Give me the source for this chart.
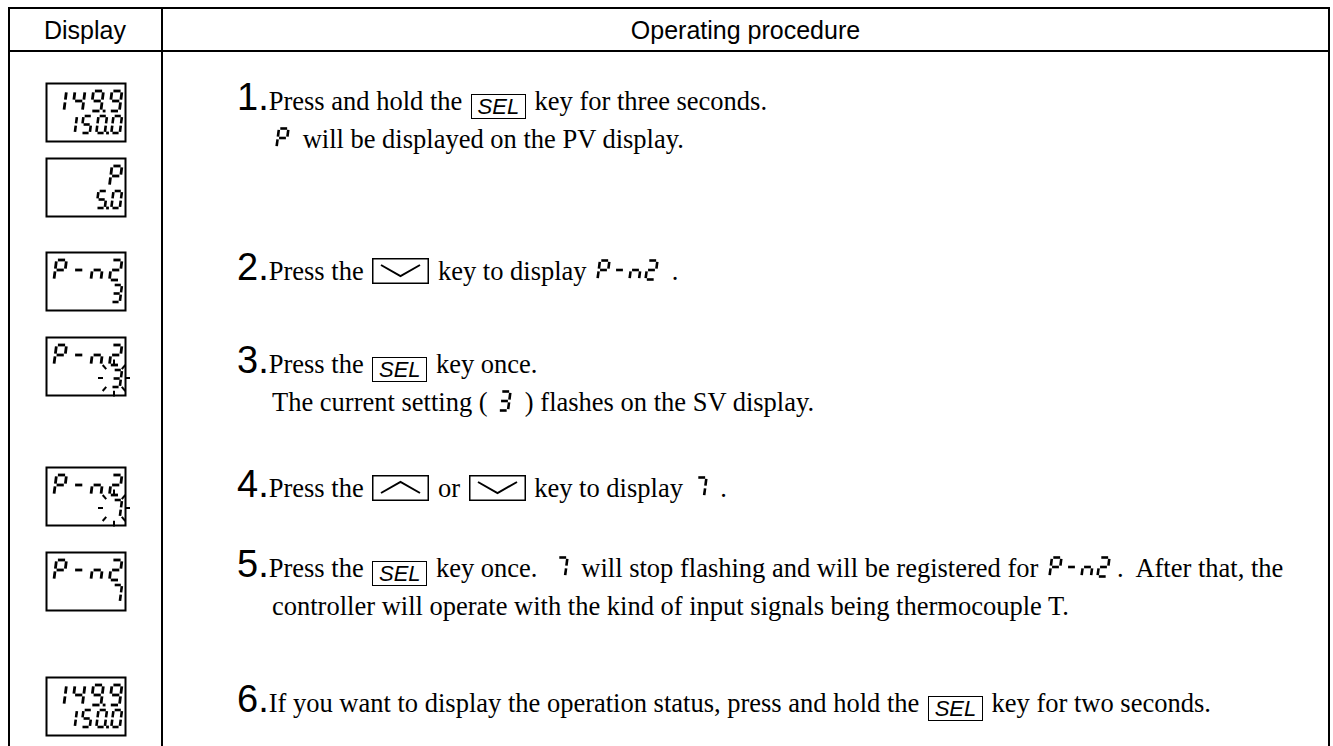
<!DOCTYPE html>
<html>
<head>
<meta charset="utf-8">
<script src="https://cdn.jsdelivr.net/npm/chart.js@4.4.0/dist/chart.umd.min.js"></script>
<style>
    body { margin: 0; width: 1333px; height: 746px; overflow: hidden; position: relative; background: #fff;
           font-family: "Liberation Serif", "Times New Roman", serif; color: #000; }
    .rule { position: absolute; background: #000; }
    .head { position: absolute; top: 15px; font-family: "Liberation Sans", Arial, sans-serif; font-size: 25px; line-height: 30px; text-align: center; }
    .line { position: absolute; white-space: nowrap; font-size: 26.5px; line-height: 40px; }
    .num { font-family: "Liberation Sans", Arial, sans-serif; font-size: 38px; line-height: 40px; }
    .mark { display: inline-block; width: 0; height: 0; }
    .key { display: inline-block; box-sizing: border-box; vertical-align: -4px; margin: 0 2px; }
    .sel { border: 1.5px solid #000; width: 55px; height: 25px; line-height: 23px; text-align: center;
           font-family: "Liberation Sans", Arial, sans-serif; font-style: italic; font-size: 22px; }
    .seg { vertical-align: -1px; margin: 0 3px; }
    #panel { position: absolute; left: 0; top: 0; }
</style>
</head>
<body>
<svg id="panel" width="162" height="746"></svg>
<div id="doc"></div>
<script>
// Display column: what the PV (upper) and SV (lower) readouts show for each step
const pvDisplay = ['149.9', 'P', 'P-n2', 'P-n2', 'P-n2', 'P-n2', '149.9'];
const svDisplay = ['150.0', '5.0', '3', '3', '7', '7', '150.0'];
const svFlashing = [false, false, false, true, true, false, false];

// Procedure text; [SEL] [UP] [DOWN] are keys, {..} is a 7-segment glyph
const stepNumbers = ['1', '', '2', '3', '', '4', '5', '', '6'];
const stepTexts = [
    'Press and hold the [SEL] key for three seconds.',
    '{P} will be displayed on the PV display.',
    'Press the [DOWN] key to display {P-n2} .',
    'Press the [SEL] key once.',
    'The current setting ( {3} ) flashes on the SV display.',
    'Press the [UP] or [DOWN] key to display {7} .',
    'Press the [SEL] key once.&nbsp; {7} will stop flashing and will be registered for {P-n2}.&nbsp; After that, the',
    'controller will operate with the kind of input signals being thermocouple T.',
    'If you want to display the operation status, press and hold the [SEL] key for two seconds.'
];

// Layout
const boxTops = [83, 158, 252, 337, 467, 552, 677];
const lineBaselines = [110, 148, 280, 373, 411, 497, 577, 615, 712];

const SEGS = {
    '0': 'abcdef', '1': 'bc', '2': 'abdeg', '3': 'abcdg', '4': 'bcfg', '5': 'acdfg',
    '6': 'acdefg', '7': 'abc', '8': 'abcdefg', '9': 'abcdfg', 'P': 'abefg', 'n': 'ceg', '-': 'g', ' ': ''
};

function parseCells(str) {
    const cells = [];
    for (const ch of str) {
        if (ch === '.' && cells.length) cells[cells.length - 1].dp = true;
        else cells.push({ ch: ch, dp: false });
    }
    return cells;
}

// one digit as svg lines, x0/y0 = top-left of the cell
function digitSvg(cell, x0, y0, h, sw) {
    const W = 0.5 * h, g = 0.07 * h, sk = 0.13;
    const P = (x, y) => [x0 + x + (h - y) * sk, y0 + y];
    const defs = {
        a: [g, 0, W - g, 0], b: [W, g, W, h / 2 - g], c: [W, h / 2 + g, W, h - g],
        d: [g, h, W - g, h], e: [0, h / 2 + g, 0, h - g], f: [0, g, 0, h / 2 - g], g: [g, h / 2, W - g, h / 2]
    };
    let out = '';
    for (const s of (SEGS[cell.ch] || '')) {
        const d = defs[s];
        const p1 = P(d[0], d[1]), p2 = P(d[2], d[3]);
        out += `<line x1="${p1[0]}" y1="${p1[1]}" x2="${p2[0]}" y2="${p2[1]}" stroke="#000" stroke-width="${sw}"/>`;
    }
    if (cell.dp) {
        const p = P(W + 0.16 * h, h);
        out += `<rect x="${p[0] - 1.4}" y="${p[1] - 1.4}" width="2.8" height="2.8" fill="#000"/>`;
    }
    return out;
}

function rowSvg(str, right, top, h, pitch, sw) {
    const cells = parseCells(str);
    let out = '';
    cells.forEach((c, i) => {
        const x = right - (cells.length - i) * pitch + (pitch - 0.5 * h - h * 0.13) - 1;
        out += digitSvg(c, x, top, h, sw);
    });
    return out;
}

function flashSvg(cx, cy) {
    let out = '';
    for (let k = 0; k < 8; k++) {
        const a = k * Math.PI / 4;
        const r1 = 11, r2 = 16;
        out += `<line x1="${cx + Math.cos(a) * r1}" y1="${cy - Math.sin(a) * r1 * 1.15}" x2="${cx + Math.cos(a) * r2}" y2="${cy - Math.sin(a) * r2 * 1.15}" stroke="#000" stroke-width="2"/>`;
    }
    return out;
}

// inline 7-segment glyph for the text
function inlineSeg(str) {
    const h = 19, pitch = 16;
    const cells = parseCells(str);
    const w = cells.length * pitch + 2;
    let inner = '';
    cells.forEach((c, i) => { inner += digitSvg(c, 1.5 + i * pitch, 1.5, h, 2.6); });
    return `<svg class="seg" width="${w}" height="${h + 3}">${inner}</svg>`;
}

function chevron(up) {
    const pts = up ? '9,18 28.5,7 48,18' : '9,7 28.5,18 48,7';
    return `<svg class="key" width="57" height="26"><rect x="0.75" y="0.75" width="55.5" height="24.5" fill="none" stroke="#000" stroke-width="1.5"/><polyline points="${pts}" fill="none" stroke="#000" stroke-width="2"/></svg>`;
}

function markup(text) {
    return text
        .replace(/\[SEL\]/g, '<span class="key sel">SEL</span>')
        .replace(/\[UP\]/g, chevron(true))
        .replace(/\[DOWN\]/g, chevron(false))
        .replace(/\{([^}]+)\}/g, (m, s) => inlineSeg(s));
}

// table rules
const doc = document.getElementById('doc');
function rule(x, y, w, h) {
    const d = document.createElement('div');
    d.className = 'rule';
    Object.assign(d.style, { left: x + 'px', top: y + 'px', width: w + 'px', height: h + 'px' });
    doc.appendChild(d);
}
rule(8, 7, 1322, 2);
rule(8, 50, 1322, 2);
rule(8, 7, 2, 746);
rule(161, 7, 2, 746);
rule(1328, 7, 2, 746);

const h1 = document.createElement('div');
h1.className = 'head'; h1.style.left = '9px'; h1.style.width = '152px'; h1.textContent = 'Display';
doc.appendChild(h1);
const h2 = document.createElement('div');
h2.className = 'head'; h2.style.left = '163px'; h2.style.width = '1165px'; h2.textContent = 'Operating procedure';
doc.appendChild(h2);

// procedure lines, each shifted so its baseline lands on lineBaselines[i]
stepTexts.forEach((t, i) => {
    const d = document.createElement('div');
    d.className = 'line';
    d.style.top = '0px';
    if (stepNumbers[i]) {
        d.style.left = '237px';
        d.innerHTML = `<span class="mark"></span><span class="num">${stepNumbers[i]}.</span>` + markup(t);
    } else {
        d.style.left = '272px';
        d.innerHTML = '<span class="mark"></span>' + markup(t);
    }
    doc.appendChild(d);
    const base = d.querySelector('.mark').getBoundingClientRect().top;
    d.style.top = (lineBaselines[i] - base) + 'px';
});

// display boxes
let svg = '';
pvDisplay.forEach((pv, i) => {
    const y = boxTops[i];
    svg += `<rect x="46.5" y="${y + 0.5}" width="79" height="58" fill="none" stroke="#000" stroke-width="2"/>`;
    svg += rowSvg(pv, 123, y + 8, 20, 18.5, 2.8);
    svg += rowSvg(svDisplay[i], 123, y + 33, 17, 15, 2.6);
    if (svFlashing[i]) svg += flashSvg(114, y + 41);
});
document.getElementById('panel').innerHTML = svg;
</script>
</body>
</html>
